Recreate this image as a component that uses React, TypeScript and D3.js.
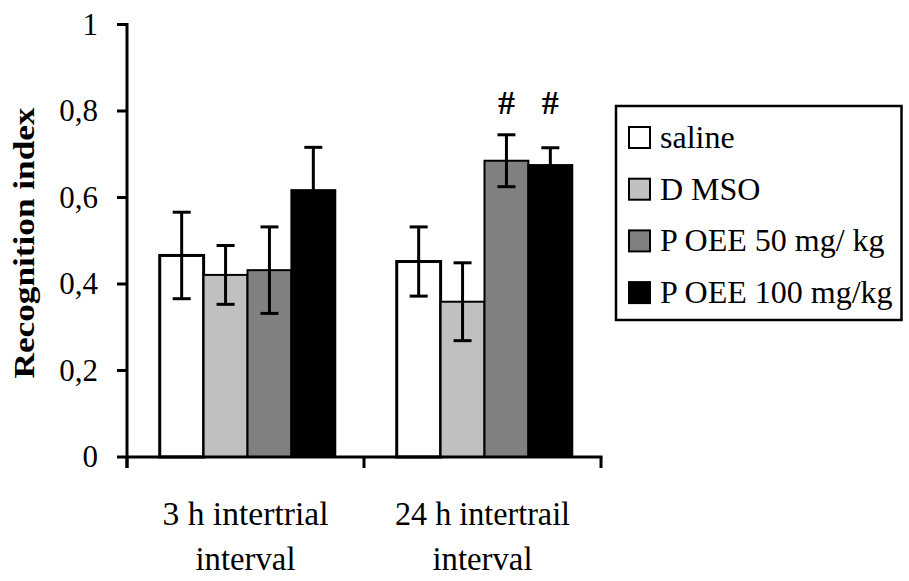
import React from "react";
import * as d3 from "d3";

// Groups (two-line category labels), series and values
const categories = ["3h", "24h"];
const categoryLines = [
  ["3  h intertrial", "interval"],
  ["24 h intertrail", "interval"],
];
const seriesNames = ["saline", "DMSO", "POEE50", "POEE100"];
const legendLabels = ["saline", "D MSO", "P OEE 50 mg/ kg", "P OEE 100 mg/kg"];
const seriesColors = ["#ffffff", "#c0c0c0", "#808080", "#000000"];

const means3h = [0.466, 0.421, 0.432, 0.617];
const errors3h = [0.1, 0.068, 0.1, 0.099];
const means24h = [0.452, 0.359, 0.685, 0.675];
const errors24h = [0.08, 0.09, 0.06, 0.04];
const marks24h = ["", "", "#", "#"];

const yTicks = [0, 0.2, 0.4, 0.6, 0.8, 1];
const yTickLabels = ["0", "0,2", "0,4", "0,6", "0,8", "1"];

const W = 909;
const H = 581;
const axisX = 127;
const axisRight = 601;
const axisY = 457;
const topY = 24.5;
const serif = "Liberation Serif";

export default function App() {
  const y = d3.scaleLinear().domain([0, 1]).range([axisY, topY]);
  const x0 = d3.scaleBand<string>().domain(categories).range([axisX, axisRight]).paddingInner(0).paddingOuter(0);
  const x1 = d3
    .scaleBand<string>()
    .domain(seriesNames)
    .range([0, x0.bandwidth()])
    .paddingInner(0)
    .paddingOuter(0.7);

  const groups = [
    { key: categories[0], means: means3h, errors: errors3h, marks: ["", "", "", ""] },
    { key: categories[1], means: means24h, errors: errors24h, marks: marks24h },
  ];

  const capHalf = 9;
  const xTickPositions = [axisX, ...categories.slice(1).map((c) => x0(c)!), axisRight];

  return (
    <svg
      width={W}
      height={H}
      viewBox={`0 0 ${W} ${H}`}
      style={{ position: "absolute", left: 0, top: 0, background: "#fff", fontFamily: serif }}
    >
      <rect x={0} y={0} width={W} height={H} fill="#fff" />

      {/* bars */}
      {groups.map((g) => (
        <g key={g.key} transform={`translate(${x0(g.key)! + 2},0)`}>
          {seriesNames.map((s, i) => {
            const bx = x1(s)!;
            const bw = x1.bandwidth();
            const top = y(g.means[i]);
            return (
              <rect
                key={s}
                x={bx}
                y={top}
                width={bw}
                height={axisY - top}
                fill={seriesColors[i]}
                stroke="#000"
                strokeWidth={i === 0 ? 3 : 2}
              />
            );
          })}
          {/* error bars */}
          {seriesNames.map((s, i) => {
            const cx = x1(s)! + x1.bandwidth() / 2;
            const hi = y(g.means[i] + g.errors[i]);
            const lo = y(g.means[i] - g.errors[i]);
            return (
              <g key={s} stroke="#000" strokeWidth={3}>
                <line x1={cx} x2={cx} y1={hi} y2={lo} />
                <line x1={cx - capHalf} x2={cx + capHalf} y1={hi} y2={hi} />
                <line x1={cx - capHalf} x2={cx + capHalf} y1={lo} y2={lo} />
              </g>
            );
          })}
          {/* significance marks */}
          {seriesNames.map((s, i) =>
            g.marks[i] ? (
              <text
                key={s}
                x={x1(s)! + x1.bandwidth() / 2}
                y={114}
                textAnchor="middle"
                style={{ fontFamily: serif, fontWeight: "bold", fontSize: 34 }}
                fill="#000"
              >
                {g.marks[i]}
              </text>
            ) : null
          )}
        </g>
      ))}

      {/* y axis */}
      <line x1={axisX} x2={axisX} y1={topY - 1.5} y2={axisY + 11} stroke="#000" strokeWidth={3} />
      {yTicks.map((t, i) => (
        <g key={t}>
          <line x1={axisX - 10} x2={axisX} y1={y(t)} y2={y(t)} stroke="#000" strokeWidth={3} />
          <text
            x={98}
            y={y(t) + 10}
            textAnchor="end"
            style={{ fontFamily: serif, fontSize: 31 }}
            fill="#000"
          >
            {yTickLabels[i]}
          </text>
        </g>
      ))}
      <text
        transform={`translate(34,243) rotate(-90)`}
        textAnchor="middle"
        style={{ fontFamily: serif, fontWeight: "bold", fontSize: 30 }}
        textLength={271}
        lengthAdjust="spacingAndGlyphs"
        fill="#000"
      >
        Recognition index
      </text>

      {/* x axis */}
      <line x1={axisX} x2={axisRight + 1.5} y1={axisY} y2={axisY} stroke="#000" strokeWidth={3} />
      {xTickPositions.map((p, i) => (
        <line key={i} x1={p} x2={p} y1={axisY} y2={axisY + 11} stroke="#000" strokeWidth={3} />
      ))}
      {categories.map((c, i) => (
        <g key={c}>
          <text
            x={x0(c)! + x0.bandwidth() / 2}
            y={525}
            textAnchor="middle"
            textLength={i === 0 ? 166 : 175}
            lengthAdjust="spacingAndGlyphs"
            style={{ fontFamily: serif, fontSize: 33 }}
            fill="#000"
          >
            {categoryLines[i][0]}
          </text>
          <text
            x={x0(c)! + x0.bandwidth() / 2}
            y={570}
            textAnchor="middle"
            textLength={100}
            lengthAdjust="spacingAndGlyphs"
            style={{ fontFamily: serif, fontSize: 33 }}
            fill="#000"
          >
            {categoryLines[i][1]}
          </text>
        </g>
      ))}

      {/* legend */}
      <rect x={616} y={106} width={285.5} height={214} fill="#fff" stroke="#000" strokeWidth={2.5} />
      {legendLabels.map((l, i) => {
        const ly = 127 + i * 51.7;
        return (
          <g key={l}>
            <rect x={629} y={ly} width={21} height={21} fill={seriesColors[i]} stroke="#000" strokeWidth={2} />
            <text x={660} y={ly + 21} style={{ fontFamily: serif, fontSize: 32 }} fill="#000">
              {l}
            </text>
          </g>
        );
      })}
    </svg>
  );
}
